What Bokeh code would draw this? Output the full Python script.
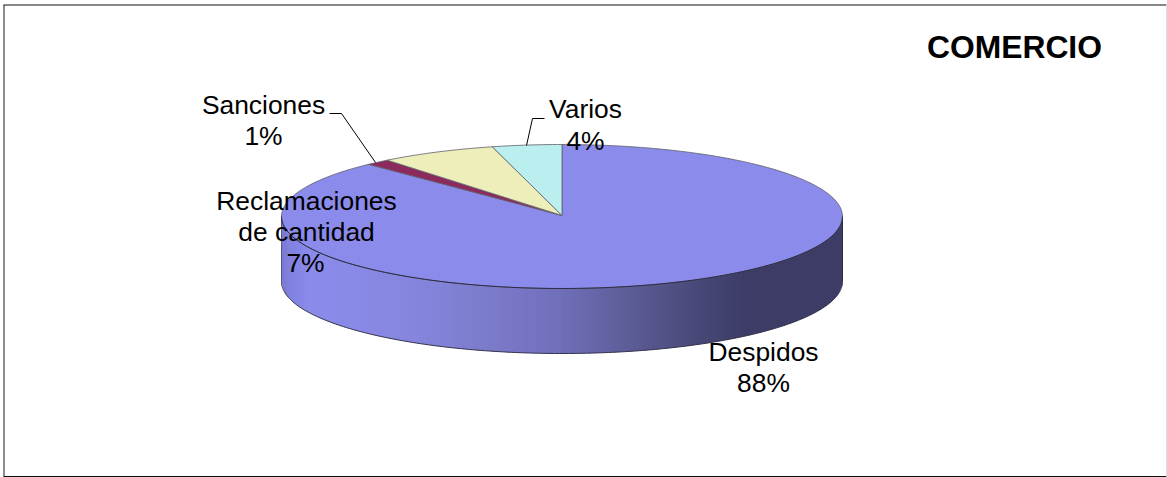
import numpy as np
from bokeh.plotting import figure
from bokeh.embed import file_html
from bokeh.resources import INLINE
from bokeh.core.properties import value

# Data (clockwise from 12 o'clock)
categories = ["Despidos", "Sanciones", "Reclamaciones de cantidad", "Varios"]
percent = [87.9, 1.4, 6.7, 4.0]
title = "COMERCIO"

# Style / layout
W, H = 1167, 477
colors = ["#8B8BEC", "#8C2A5E", "#EEEEBB", "#BBEEEE"]
CX, CY, RX, RY, DEPTH = 561.5, 216, 280.5, 72, 65
FONT = "Liberation Sans"
FS = "26.4px"
grad_x = [281, 290, 310, 400, 480, 560, 640, 700, 750, 843]
grad_r = [122, 130, 139, 135, 125, 112, 90, 72, 60, 60]
grad_g = [122, 130, 139, 135, 125, 112, 90, 72, 60, 60]
grad_b = [210, 225, 236, 225, 205, 187, 145, 120, 102, 102]
label_pos = [
    (["Despidos"], 763, [351]),
    (["Sanciones"], 263, [104]),
    (["Reclamaciones", "de cantidad"], 306, [200, 231]),
    (["Varios"], 585, [108]),
]
leaders = [([329, 341, 375], [113, 113, 162]), ([544, 532, 526], [118, 118, 145])]
pct_pos = [(763, 382), (263, 135), (305, 262), (585, 140)]

p = figure(width=W, height=H, x_range=(0, W), y_range=(H, 0),
           output_backend="svg", toolbar_location=None, min_border=0,
           outline_line_color=None, background_fill_color="white")
p.axis.visible = False
p.grid.visible = False
p.styles = {"position": "absolute", "left": "0px", "top": "0px"}

def ex(t):
    return CX + RX * np.sin(t)
def ey(t):
    return CY - RY * np.cos(t)

# Frame
p.line([3.5, 3.5], [4.5, 476], line_color="#666666", line_width=1.5)
p.line([3, 1166], [4.5, 4.5], line_color="#111111", line_width=1)
p.line([3, 1166], [476, 476], line_color="#111111", line_width=1)
p.line([1166, 1166], [4.5, 476], line_color="#dddddd", line_width=1)

# Side wall: gradient strips under the front half of the rim
edges = np.arange(CX - RX, CX + RX + 0.01, 2.0)
if edges[-1] < CX + RX:
    edges = np.append(edges, CX + RX)
def rim(x):
    return CY + RY * np.sqrt(np.clip(1 - ((x - CX) / RX) ** 2, 0, 1))
xs, ys, fills = [], [], []
for a, b in zip(edges[:-1], edges[1:]):
    b2 = min(b + 0.7, CX + RX)
    xs.append([a, b2, b2, a])
    ys.append([rim(a) - 3, rim(b2) - 3, rim(b2) + DEPTH, rim(a) + DEPTH])
    m = (a + b) / 2
    r, g, bl = (np.interp(m, grad_x, c) for c in (grad_r, grad_g, grad_b))
    fills.append("#%02x%02x%02x" % (int(r), int(g), int(bl)))
p.patches(xs, ys, fill_color=fills, line_color=None)

# Bottom outline and vertical edges of the wall
tb = np.linspace(np.pi / 2, 3 * np.pi / 2, 200)
p.line(list(ex(tb)), list(ey(tb) + DEPTH), line_color="#33334d", line_width=1)
p.line([CX - RX, CX - RX], [CY, CY + DEPTH], line_color="#55558a", line_width=1)
p.line([CX + RX, CX + RX], [CY, CY + DEPTH], line_color="#2a2a48", line_width=1)

# Top face, one wedge for each value
cum = np.cumsum([0] + percent) / sum(percent) * 2 * np.pi
for i, col in enumerate(colors):
    t = np.linspace(cum[i], cum[i + 1], max(3, int(percent[i] * 4)))
    p.patch([CX] + list(ex(t)), [CY - 1] + list(ey(t)), fill_color=col,
            line_color="#5f5f6a", line_width=0.8)

# Darker front rim of the top face
tf = np.linspace(np.pi / 2, 3 * np.pi / 2, 200)
p.line(list(ex(tf)), list(ey(tf)), line_color="#2b2b44", line_width=1)

# Leader lines
for lx, ly in leaders:
    p.line(lx, ly, line_color="black", line_width=1)

# Labels
for (lines, x, yy), v, (px, py) in zip(label_pos, percent, pct_pos):
    p.text([x] * len(lines) + [px], yy + [py], text=lines + [f"{round(v)}%"],
           text_font=value(FONT), text_font_size=value(FS),
           text_color="black", text_align="center", text_baseline="middle")
p.text([1014], [46.5], text=[title], text_font=value(FONT), text_font_size=value("31.8px"),
       text_font_style="bold", text_color="black", text_align="center", text_baseline="middle")

open("out.html", "w").write(file_html(p, INLINE))
